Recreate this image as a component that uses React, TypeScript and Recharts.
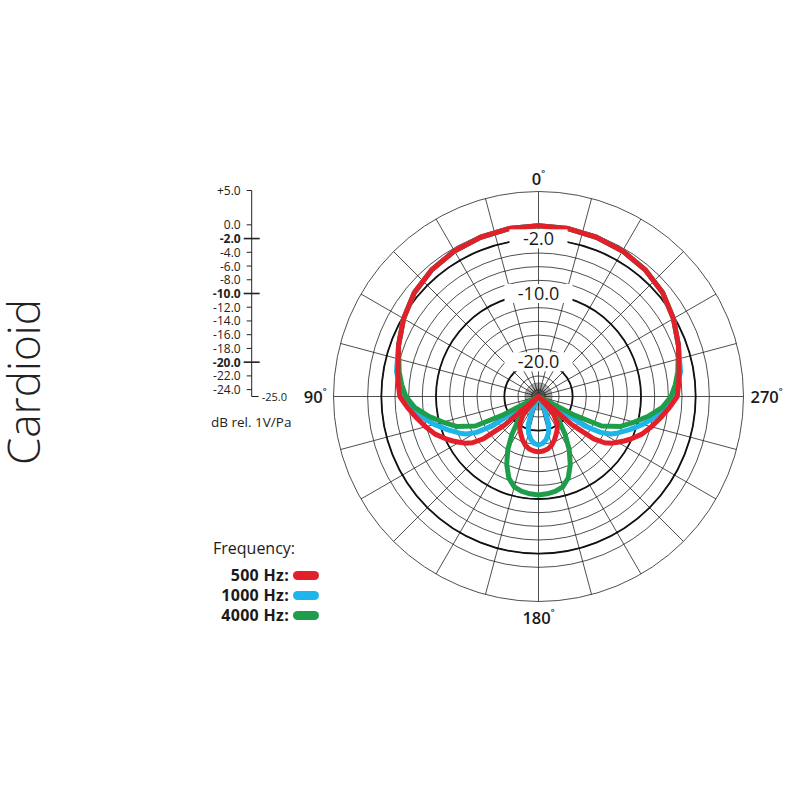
import React from 'react';
import { RadarChart, Radar, PolarGrid, PolarAngleAxis, PolarRadiusAxis, Legend, LineChart, YAxis, XAxis } from 'recharts';

const FONT = '"Open Sans", Lato, sans-serif';

// angles in degrees, counter-clockwise from the front (0°)
const angles = [0,10,20,30,40,50,60,70,80,85,90,95,100,105,110,115,117.5,120,122.5,125,127.5,130,132.5,135,137.5,140,145,150,155,160,165,170,175,180,
  185,190,195,200,205,210,215,220,222.5,225,227.5,230,232.5,235,237.5,240,242.5,245,250,255,260,265,270,275,280,290,300,310,320,330,340,350];

const red500 = [0,-0.05,-0.2,-0.4,-0.75,-1.3,-2.2,-3.2,-4.1,-4.4,-4.7,-5.8,-6.9,-7.9,-8.9,-10.2,-10.9,-11.6,-12.3,-13.2,-14.8,-18.5,-25,-25,-23.0,-21.5,-20.3,-19.5,-18.9,-18.2,-17.6,-17.2,-17.0,-16.9,
  -17.0,-17.2,-17.6,-18.2,-18.9,-19.5,-20.3,-21.5,-23.0,-25,-25,-18.5,-14.8,-13.2,-12.3,-11.6,-10.9,-10.2,-8.9,-7.9,-6.9,-5.8,-4.7,-4.4,-4.1,-3.2,-2.2,-1.3,-0.75,-0.4,-0.2,-0.05];

const blue1000 = [0,-0.05,-0.2,-0.4,-0.75,-1.3,-2.2,-3.2,-3.9,-4.5,-5.0,-6.3,-7.7,-9.2,-10.8,-12.3,-13.1,-14.5,-17.0,-25,-25,-25,-25,-25,-25,-25,-25,-25,-22.8,-20.6,-19.4,-18.6,-18.1,-17.9,
  -18.1,-18.6,-19.4,-20.6,-22.8,-25,-25,-25,-25,-25,-25,-25,-25,-25,-17.0,-14.5,-13.1,-12.3,-10.8,-9.2,-7.7,-6.3,-5.0,-4.5,-3.9,-3.2,-2.2,-1.3,-0.75,-0.4,-0.2,-0.05];

const green4000 = [0,-0.05,-0.2,-0.4,-0.75,-1.3,-2.2,-3.2,-4.3,-4.9,-5.6,-6.8,-8.6,-10.5,-12.2,-14.8,-19.0,-25,-25,-25,-25,-25,-25,-25,-23.5,-20.3,-18.2,-16.0,-14.0,-12.3,-11.3,-10.9,-10.7,-10.6,
  -10.7,-10.9,-11.3,-12.3,-14.0,-16.0,-18.2,-20.3,-23.5,-25,-25,-25,-25,-25,-25,-25,-19.0,-14.8,-12.2,-10.5,-8.6,-6.8,-5.6,-4.9,-4.3,-3.2,-2.2,-1.3,-0.75,-0.4,-0.2,-0.05];

const radiusDomain = [-25, 5];
const angleDomain = [0, 360];
const ringTicks = [-24,-22,-20,-18,-16,-14,-12,-10,-8,-6,-4,-2,0,5];
const labeledRings = [-2, -10, -20];
const angleLabels = [0, 90, 180, 270];
const spokeAngles = [0,15,30,45,60,75,90,105,120,135,150,165,180,195,210,225,240,255,270,285,300,315,330,345];
const denseSpokes = [0,5,10,15,20,25,30,35,40,45,50,55,60,65,70,75,80,85,90,95,100,105,110,115,120,125,130,135,140,145,150,155,160,165,170,175,180,185,190,195,200,205,210,215,220,225,230,235,240,245,250,255,260,265,270,275,280,285,290,295,300,305,310,315,320,325,330,335,340,345,350,355];
const scaleTicks = [5,0,-2,-4,-6,-8,-10,-12,-14,-16,-18,-20,-22,-24,-25];
const boldScale = [-2, -10, -20];

const series = [
  { key: 'b1000', name: '1000 Hz:', color: '#1DB5EA' },
  { key: 'g4000', name: '4000 Hz:', color: '#1E9E4B' },
  { key: 'r500', name: '500 Hz:', color: '#E3202A' },
];
const legendOrder = ['r500', 'b1000', 'g4000'];

const data = angles.map((a, i) => ({ angle: a, r500: red500[i], b1000: blue1000[i], g4000: green4000[i] }));
const scaleData = [{ x: 0 }, { x: 1 }];

const CX = 538.5;
const CY = 396.5;
const OUTER = 205;
const ringRadius = (v: number) => (OUTER * (v - radiusDomain[0])) / (radiusDomain[1] - radiusDomain[0]);

const AngleTick = (props: any) => {
  const { payload } = props;
  const v = Number(payload.value);
  if (!angleLabels.includes(v)) return null;
  const rad = (v * Math.PI) / 180;
  const R = OUTER + 8;
  const x = CX - R * Math.sin(rad);
  const y = CY - R * Math.cos(rad);
  let anchor: any = 'middle';
  let tx = x;
  let ty = y;
  if (v === 0) ty = y - 5;
  if (v === 180) ty = y + 8;
  if (v === 90) { anchor = 'end'; tx = x + 1; }
  if (v === 270) { anchor = 'start'; tx = x - 1; }
  return (
    <text x={tx} y={ty} textAnchor={anchor} dominantBaseline="central" fontFamily={FONT} fontSize={16.5} fontWeight={600} fill="#1a1a1a">
      {String(v)}
      <tspan fontSize={9} dy={-6}>°</tspan>
    </text>
  );
};

const RingLabel = (props: any) => {
  const { x, y, payload } = props;
  const v = Number(payload.value);
  if (!labeledRings.includes(v)) return null;
  const label = v.toFixed(1);
  const w = label.length * 10 + 18;
  return (
    <g>
      <rect x={x - w / 2} y={y - 10} width={w} height={19} fill="#ffffff" />
      <text x={x} y={y - 1} textAnchor="middle" dominantBaseline="central" fontFamily={FONT} fontSize={18} fontWeight={500} fill="#1a1a1a">
        {label}
      </text>
    </g>
  );
};

const ScaleTick = (props: any) => {
  const { x, y, payload } = props;
  const v = Number(payload.value);
  const label = v > 0 ? `+${v.toFixed(1)}` : v.toFixed(1);
  if (v === -25) {
    return (
      <g>
        <line x1={x} y1={y} x2={x + 7} y2={y} stroke="#222" strokeWidth={1} />
        <text x={x + 10} y={y} dominantBaseline="central" fontFamily={FONT} fontSize={11} fill="#222">{label}</text>
      </g>
    );
  }
  const bold = boldScale.includes(v);
  return (
    <g>
      <line x1={bold ? x - 8 : x - 5} y1={y} x2={bold ? x + 8 : x} y2={y} stroke="#222" strokeWidth={bold ? 1.6 : 1} />
      <text x={x - 11} y={y} textAnchor="end" dominantBaseline="central" fontFamily={FONT} fontSize={12} fontWeight={bold ? 700 : 400} fill="#222">{label}</text>
    </g>
  );
};

const ScaleCaption = () => (
  <text x={211} y={422} dominantBaseline="central" fontFamily={FONT} fontSize={13.5} fill="#222">dB rel. 1V/Pa</text>
);

const LegendBlock = () => (
  <div style={{ fontFamily: FONT, color: '#1a1a1a', width: 114 }}>
    <div style={{ fontSize: 16, lineHeight: '20px', height: 20, textAlign: 'left', paddingLeft: 8 }}>Frequency:</div>
    <div style={{ height: 7 }} />
    {legendOrder.map((k) => {
      const s = series.find((q) => q.key === k)!;
      return (
        <div key={k} style={{ display: 'flex', justifyContent: 'flex-end', alignItems: 'center', height: 20 }}>
          <span style={{ fontSize: 16, fontWeight: 700, letterSpacing: 0.3, whiteSpace: 'nowrap' }}>{s.name}</span>
          <span style={{ display: 'inline-block', flex: '0 0 26px', width: 26, height: 9, borderRadius: 5, background: s.color, marginLeft: 4 }} />
        </div>
      );
    })}
  </div>
);

export default function App() {
  return (
    <div style={{ position: 'absolute', left: 0, top: 0, width: 800, height: 800, background: '#fff', overflow: 'hidden' }}>
      <div style={{ position: 'absolute', left: 1, top: 282, width: 44, height: 200, display: 'flex', alignItems: 'center', justifyContent: 'center', writingMode: 'vertical-rl', transform: 'rotate(180deg)', fontFamily: FONT, fontSize: 44, lineHeight: '44px', fontWeight: 300, color: '#222', whiteSpace: 'nowrap' }}>Cardioid</div>
      {/* inner dense spokes and hub */}
      <div style={{ position: 'absolute', left: 0, top: 0 }}>
        <RadarChart width={800} height={800} cx={CX} cy={CY} outerRadius={ringRadius(-23)} startAngle={90} endAngle={450} data={data} margin={{ top: 0, right: 0, bottom: 0, left: 0 }}>
          <PolarGrid gridType="circle" polarAngles={denseSpokes} polarRadius={[ringRadius(-23)]} stroke="#444" strokeWidth={0.5} />
          <PolarGrid gridType="circle" radialLines={false} polarRadius={[2.5]} stroke="#8a8a8a" strokeWidth={5} />
        </RadarChart>
      </div>
      {/* main polar chart */}
      <div style={{ position: 'absolute', left: 0, top: 0 }}>
        <RadarChart width={800} height={800} cx={CX} cy={CY} outerRadius={OUTER} startAngle={90} endAngle={450} data={data} margin={{ top: 0, right: 0, bottom: 0, left: 0 }}>
          <PolarGrid gridType="circle" polarAngles={spokeAngles} stroke="#222" strokeWidth={0.8} />
          <PolarGrid gridType="circle" radialLines={false} polarRadius={labeledRings.map(ringRadius)} stroke="#111" strokeWidth={1.8} />
          <PolarAngleAxis dataKey="angle" type="number" domain={angleDomain} ticks={angleLabels} tick={AngleTick} tickLine={false} axisLine={false} allowDataOverflow />
          <PolarRadiusAxis angle={90} type="number" domain={radiusDomain} ticks={ringTicks} tick={RingLabel} axisLine={false} tickLine={false} allowDataOverflow />
          {series.map((s) => (
            <Radar key={s.key} name={s.name} dataKey={s.key} stroke={s.color} strokeWidth={5} fill="none" fillOpacity={0} strokeLinejoin="round" dot={false} isAnimationActive={false} />
          ))}
          <Legend layout="horizontal" verticalAlign="middle" align="center" content={LegendBlock} wrapperStyle={{ position: 'absolute', left: 205, top: 538, width: 114 }} />
        </RadarChart>
      </div>
      {/* dB scale */}
      <div style={{ position: 'absolute', left: 0, top: 170 }}>
        <LineChart width={320} height={280} data={scaleData} margin={{ top: 20.5, right: 68.3, bottom: 53.5, left: 0 }}>
          <XAxis dataKey="x" hide />
          <YAxis type="number" domain={radiusDomain} ticks={scaleTicks} interval={0} width={251.7} tickSize={0} tickMargin={0} tickLine={false} axisLine={{ stroke: '#222', strokeWidth: 1 }} tick={ScaleTick} allowDataOverflow label={{ content: () => <g transform="translate(0,-170)"><ScaleCaption /></g> }} />
        </LineChart>
      </div>
    </div>
  );
}
